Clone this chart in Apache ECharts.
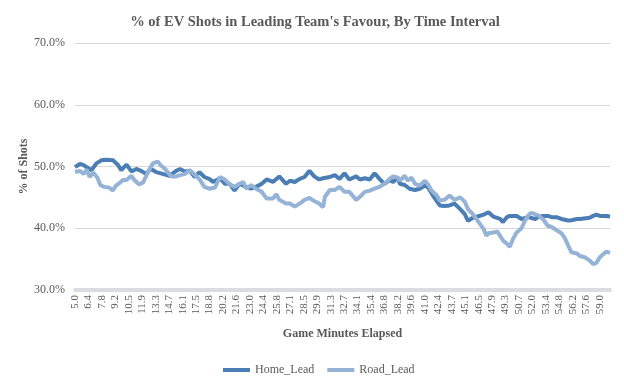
<!DOCTYPE html>
<html>
<head>
<meta charset="utf-8">
<script src="https://cdn.jsdelivr.net/npm/echarts@6/dist/echarts.min.js"></script>
<style>html,body{margin:0;padding:0;background:#fff;}#c{width:624px;height:386px;}</style>
</head>
<body>
<div id="c"></div>
<script>
const xTickLabels = ['5.0','6.4','7.8','9.2','10.5','11.9','13.3','14.7','16.1','17.5','18.8','20.2','21.6','23.0','24.4','25.8','27.1','28.5','29.9','31.3','32.7','34.1','35.4','36.8','38.2','39.6','41.0','42.4','43.7','45.1','46.5','47.9','49.3','50.7','52.0','53.4','54.8','56.2','57.6','59.0'];
const labelStep = 83 / 60;

const homeTimes = [5.0,5.5,5.8,6.3,6.7,7.2,7.7,8.2,8.9,9.4,9.75,10.3,10.8,11.3,11.8,12.3,12.8,13.35,14.0,14.7,15.4,15.8,16.3,16.8,17.3,17.8,18.3,18.8,19.2,19.9,20.4,20.9,21.4,21.9,22.6,23.1,23.6,24.2,24.7,25.35,26.0,26.7,27.1,27.6,28.1,28.6,29.1,29.6,30.1,30.5,31.2,31.7,32.2,32.7,33.2,33.9,34.3,34.8,35.3,35.8,36.3,36.8,37.35,37.7,38.2,38.4,38.9,39.4,39.95,40.45,40.97,41.3,41.8,42.5,43.0,43.5,44.0,44.6,45.07,45.4,45.9,46.4,47.0,47.5,48.0,48.7,49.0,49.4,49.7,50.4,50.9,51.6,52.3,52.6,53.1,53.6,54.0,54.5,55.0,55.7,56.05,56.6,56.9,57.9,58.27,58.6,58.96,59.6,60.0];
const homeValues = [49.9,50.4,50.3,49.8,49.4,50.5,51.0,51.1,51.0,50.3,49.4,50.3,49.2,49.6,49.3,48.8,49.6,49.1,48.8,48.5,49.3,49.6,49.2,49.3,48.3,49.1,48.3,48.0,47.5,48.1,47.2,47.2,46.1,47.2,46.7,46.4,46.7,47.2,47.9,47.5,48.4,47.2,47.7,47.5,48.0,48.3,49.3,48.4,47.9,48.1,48.3,48.6,48.0,48.9,47.9,48.4,47.9,48.1,47.9,48.9,48.0,47.2,47.8,47.5,48.2,47.2,47.0,46.4,46.2,46.4,46.9,46.6,45.3,43.7,43.6,43.7,44.0,43.1,42.3,41.2,41.7,41.9,42.2,42.6,41.9,41.5,41.0,41.8,42.0,42.0,41.5,41.8,41.5,41.8,42.0,42.0,41.8,41.8,41.5,41.25,41.3,41.5,41.5,41.7,42.0,42.2,42.0,42.0,41.9];

const roadTimes = [5.0,5.5,5.9,6.2,6.5,6.9,7.3,7.6,8.0,8.5,8.9,9.2,9.5,9.9,10.3,10.8,11.1,11.6,12.0,12.5,13.0,13.5,13.8,14.2,14.9,15.4,15.8,16.3,16.8,17.3,17.8,18.3,18.8,19.4,19.9,20.4,20.9,21.4,21.9,22.3,22.6,23.1,23.6,24.2,24.7,25.35,25.7,26.0,26.7,27.1,27.6,28.1,28.6,29.1,29.6,30.1,30.5,30.7,31.2,31.7,32.2,32.7,33.2,33.9,34.3,34.8,35.3,35.8,36.3,36.8,37.35,37.7,38.2,38.4,38.9,39.2,39.6,39.95,40.45,40.97,41.3,41.65,42.2,42.5,43.0,43.5,44.0,44.6,45.07,45.4,45.9,46.4,47.0,47.3,47.5,48.0,48.4,48.7,49.0,49.4,49.7,50.04,50.4,50.9,51.25,51.6,51.9,52.3,52.6,53.1,53.6,54.0,54.5,55.0,55.36,55.7,56.05,56.6,56.9,57.4,57.9,58.27,58.6,58.96,59.3,59.6,60.0];
const roadValues = [49.1,49.3,48.8,49.5,48.3,49.0,48.2,47.0,46.7,46.6,46.1,46.9,47.2,47.8,47.8,48.5,47.8,47.1,47.4,49.1,50.5,50.8,50.2,49.7,48.4,48.4,48.6,48.8,49.4,48.7,47.9,46.7,46.4,46.6,48.3,47.9,47.1,46.7,47.2,47.5,46.4,47.0,46.4,45.9,44.8,44.8,45.5,44.6,44.0,44.0,43.5,44.0,44.6,44.9,44.4,44.0,43.4,45.1,46.2,46.2,46.7,45.9,45.9,44.6,45.1,45.9,46.1,46.4,46.7,47.2,48.0,48.4,48.2,47.7,48.5,47.7,48.2,47.2,46.9,47.7,47.1,46.1,45.3,44.5,44.6,45.3,44.6,45.0,44.3,43.1,42.3,41.2,39.9,38.8,39.2,39.3,39.5,38.8,38.0,37.5,37.0,38.3,39.3,40.0,41.2,42.1,42.5,42.3,42.1,41.5,40.4,40.2,39.7,39.2,38.4,37.2,36.1,35.9,35.5,35.3,34.8,34.2,34.4,35.3,35.8,36.2,36.0];

const chart = echarts.init(document.getElementById('c'), null, {renderer: 'canvas'});
const font = 'Liberation Serif';
chart.setOption({
  animation: false,
  backgroundColor: '#ffffff',
  title: {
    text: "% of EV Shots in Leading Team's Favour, By Time Interval",
    left: 310, top: 10, textAlign: 'center',
    textStyle: {fontFamily: font, fontSize: 14.5, fontWeight: 'bold', color: '#595959'}
  },
  legend: {
    left: 218, top: 359, itemWidth: 27, itemHeight: 4, itemGap: 13,
    textStyle: {fontFamily: font, fontSize: 12, color: '#595959'},
    data: [{name: 'Home_Lead', icon: 'rect'}, {name: 'Road_Lead', icon: 'rect'}]
  },
  grid: {left: 75, right: 14, top: 43, bottom: 96, containLabel: false},
  xAxis: {
    type: 'value', min: 5, max: 60, interval: labelStep,
    name: 'Game Minutes Elapsed', nameLocation: 'middle', nameGap: 38,
    nameTextStyle: {fontFamily: font, fontSize: 12, fontWeight: 'bold', color: '#595959'},
    axisLine: {show: true, lineStyle: {color: '#d9dce1', width: 4}},
    axisTick: {show: false},
    splitLine: {show: false},
    axisLabel: {
      rotate: 90, fontFamily: font, fontSize: 11, color: '#595959', margin: 5,
      showMaxLabel: false,
      formatter: function (v) {
        const i = Math.round((v - 5) / labelStep);
        return xTickLabels[i] !== undefined && Math.abs(v - 5 - i * labelStep) < 1e-6 ? xTickLabels[i] : '';
      }
    }
  },
  yAxis: {
    type: 'value', min: 30, max: 70, interval: 10,
    name: '% of Shots', nameLocation: 'middle', nameGap: 45, nameMoveOverlap: false,
    nameTextStyle: {fontFamily: font, fontSize: 12, fontWeight: 'bold', color: '#595959'},
    axisLine: {show: false}, axisTick: {show: false},
    splitLine: {lineStyle: {color: '#d9d9d9', width: 1}},
    axisLabel: {fontFamily: font, fontSize: 12, color: '#595959', margin: 10,
      formatter: function (v) { return v.toFixed(1) + '%'; }}
  },
  series: [
    {name: 'Home_Lead', type: 'line', showSymbol: false, symbol: 'none',
      lineStyle: {width: 4, color: '#4a7eb4'}, itemStyle: {color: '#4a7eb4'},
      data: homeTimes.map((t, i) => [t, homeValues[i]])},
    {name: 'Road_Lead', type: 'line', showSymbol: false, symbol: 'none',
      lineStyle: {width: 4, color: '#95b3d7'}, itemStyle: {color: '#95b3d7'},
      data: roadTimes.map((t, i) => [t, roadValues[i]])}
  ]
});
</script>
</body>
</html>
